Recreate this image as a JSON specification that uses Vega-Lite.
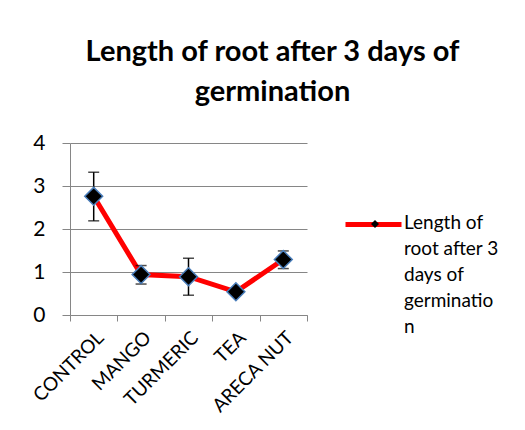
{
  "$schema": "https://vega.github.io/schema/vega-lite/v6.json",
  "width": 237,
  "height": 172,
  "autosize": {"type": "none"},
  "padding": {"left": 70, "top": 143, "right": 218, "bottom": 115},
  "background": "white",
  "title": {
    "text": ["Length of root after 3 days of", "germination"],
    "font": "Lato",
    "fontSize": 29,
    "fontWeight": "bold",
    "color": "black",
    "lineHeight": 40,
    "anchor": "middle",
    "frame": "group",
    "dx": 84,
    "offset": 25
  },
  "config": {
    "view": {"stroke": null},
    "font": "Lato"
  },
  "data": {
    "values": [
      {"treatment": "CONTROL", "length": 2.76, "low": 2.19, "high": 3.32},
      {"treatment": "MANGO", "length": 0.94, "low": 0.72, "high": 1.15},
      {"treatment": "TURMERIC", "length": 0.89, "low": 0.46, "high": 1.32},
      {"treatment": "TEA", "length": 0.54, "low": 0.5, "high": 0.58},
      {"treatment": "ARECA NUT", "length": 1.29, "low": 1.08, "high": 1.49}
    ]
  },
  "encoding": {
    "x": {
      "field": "treatment",
      "type": "nominal",
      "sort": null,
      "scale": {"paddingInner": 0, "paddingOuter": 0},
      "axis": {
        "title": null,
        "tickBand": "extent",
        "domainColor": "#868686",
        "tickColor": "#868686",
        "tickSize": 6,
        "labelAngle": -45,
        "labelAlign": "right",
        "labelBaseline": "top",
        "labelPadding": 7,
        "labelFont": "Lato",
        "labelFontSize": 19,
        "labelColor": "black"
      }
    }
  },
  "layer": [
    {
      "mark": {"type": "line", "stroke": "#FF0000", "strokeWidth": 5},
      "encoding": {
        "y": {
          "field": "length",
          "type": "quantitative",
          "scale": {"domain": [0, 4], "nice": false},
          "axis": {
            "title": null,
            "values": [0, 1, 2, 3, 4],
            "grid": true,
            "gridColor": "#868686",
            "gridWidth": 1,
            "domainColor": "#868686",
            "tickColor": "#868686",
            "tickSize": 8,
            "labelFont": "Lato",
            "labelFontSize": 21,
            "labelColor": "black",
            "labelPadding": 17
          }
        },
        "color": {
          "datum": "Length of root after 3 days of germination",
          "scale": {"range": ["#FF0000"]},
          "legend": {
            "title": null,
            "orient": "none",
            "legendX": 273,
            "legendY": 51,
            "padding": 0,
            "symbolType": "stroke",
            "symbolStrokeWidth": 5,
            "symbolSize": 3136,
            "symbolStrokeColor": "#FF0000",
            "labelExpr": "['Length of', 'root after 3', 'days of', 'germinatio', 'n']",
            "labelFont": "Lato",
            "labelFontSize": 19,
            "labelColor": "black",
            "labelLimit": 0,
            "labelOffset": 0,
            "labelBaseline": "alphabetic",
            "encode": {"labels": {"update": {"lineHeight": {"value": 26}, "dy": {"value": 4}}}}
          }
        }
      }
    },
    {
      "mark": {"type": "rule", "color": "black", "strokeWidth": 1.5},
      "encoding": {
        "y": {"field": "low", "type": "quantitative"},
        "y2": {"field": "high"}
      }
    },
    {
      "mark": {"type": "tick", "color": "black", "size": 11, "thickness": 1.5},
      "encoding": {"y": {"field": "low", "type": "quantitative"}}
    },
    {
      "mark": {"type": "tick", "color": "black", "size": 11, "thickness": 1.5},
      "encoding": {"y": {"field": "high", "type": "quantitative"}}
    },
    {
      "mark": {"type": "point", "filled": true, "fill": "black", "stroke": "#4a7ebb", "strokeWidth": 1.5, "size": 320, "opacity": 1},
      "encoding": {
        "y": {"field": "length", "type": "quantitative"},
        "shape": {
          "datum": "marker",
          "scale": {"range": ["diamond"]},
          "legend": {
            "title": null,
            "orient": "none",
            "legendX": 300,
            "legendY": 76,
            "padding": 0,
            "symbolSize": 64,
            "symbolFillColor": "black",
            "symbolStrokeColor": "#4a7ebb",
            "symbolStrokeWidth": 1.5,
            "labelExpr": "''"
          }
        }
      }
    }
  ]
}
